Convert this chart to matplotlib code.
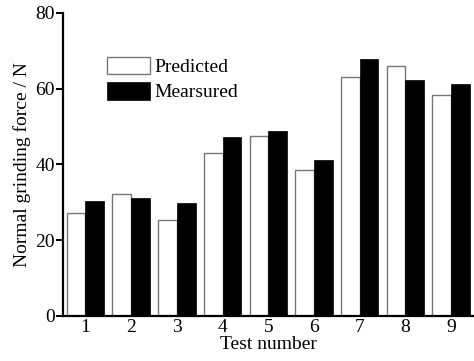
import numpy as np
import matplotlib.pyplot as plt

plt.rcParams['font.family'] = ['Liberation Serif', 'DejaVu Serif']

test_numbers = [1, 2, 3, 4, 5, 6, 7, 8, 9]
predicted = [27.2, 32.1, 25.4, 42.9, 47.6, 38.5, 63.2, 66.1, 58.4]
measured = [30.4, 31.2, 29.9, 47.3, 48.9, 41.3, 67.9, 62.4, 61.2]

x = np.array(test_numbers)
w = 0.41

fig = plt.figure(figsize=(4.74, 3.61), dpi=100)
ax = fig.add_axes([0.133, 0.125, 0.865, 0.839])

ax.bar(x - w/2, predicted, w, color='white', edgecolor='#777777', linewidth=1.0, label='Predicted')
ax.bar(x + w/2, measured, w, color='black', edgecolor='black', linewidth=0.5, label='Mearsured')

ax.set_xlim(0.51, 9.48)
ax.set_ylim(0, 80)
ax.set_yticks([0, 20, 40, 60, 80])
ax.set_xticks(x)
ax.set_xticklabels([str(t) for t in test_numbers])

for s in ['top', 'right']:
    ax.spines[s].set_visible(False)
for s in ['left', 'bottom']:
    ax.spines[s].set_linewidth(1.6)

ax.tick_params(axis='y', direction='out', length=5, width=1.4, labelsize=14, pad=1)
ax.tick_params(axis='x', length=0, labelsize=14, pad=2)

ax.set_xlabel('Test number', fontsize=14, labelpad=0)
ax.set_ylabel('Normal grinding force / N', fontsize=14, labelpad=3)

ax.legend(loc='upper left', bbox_to_anchor=(0.107, 0.855), frameon=False, fontsize=14,
          handlelength=2.2, handleheight=1.0, handletextpad=0.25, labelspacing=0.3,
          borderaxespad=0, borderpad=0)

fig.savefig('out.png', dpi=100)
